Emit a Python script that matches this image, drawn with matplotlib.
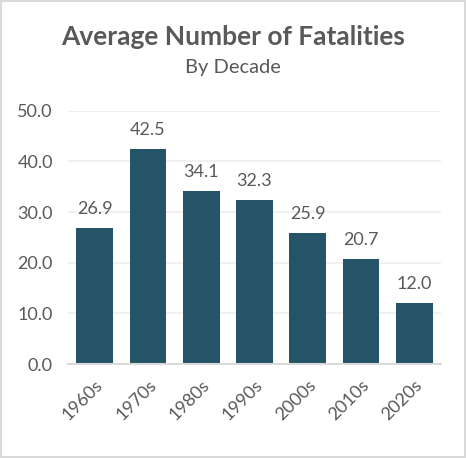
import matplotlib
matplotlib.use("Agg")
import matplotlib.pyplot as plt
from matplotlib.patches import Rectangle

decades = ["1960s", "1970s", "1980s", "1990s", "2000s", "2010s", "2020s"]
avg_fatalities = [26.9, 42.5, 34.1, 32.3, 25.9, 20.7, 12.0]
yticks = [0, 10, 20, 30, 40, 50]

title = "Average Number of Fatalities"
subtitle = "By Decade"

txt = "#595959"
bar_color = "#255367"
plt.rcParams["font.family"] = ["Lato", "DejaVu Sans"]

fig = plt.figure(figsize=(4.66, 4.58), dpi=100)
ax = fig.add_axes([0.146, 0.205, 0.80, 0.553])

x = range(len(decades))
bars = ax.bar(x, avg_fatalities, width=0.69, color=bar_color, zorder=3)
for xi, v in zip(x, avg_fatalities):
    ax.annotate(f"{v:.1f}", (xi, v), xytext=(0, 8), textcoords="offset points",
                ha="center", va="bottom", fontsize=13, color=txt)

ax.set_xlim(-0.5, len(decades) - 0.5)
ax.set_ylim(0, 50)
ax.set_yticks(yticks)
ax.set_yticklabels([f"{t:.1f}" for t in yticks], fontsize=13, color=txt)
ax.set_xticks(list(x))
ax.set_xticklabels(decades, fontsize=13, color=txt, rotation=45,
                   ha="right", va="top", rotation_mode="anchor")
ax.tick_params(length=0)
ax.tick_params(axis="y", pad=11)
ax.tick_params(axis="x", pad=9)
ax.grid(axis="y", color="#eeeeee", linewidth=1.2, zorder=0)
for s in ["top", "right", "left"]:
    ax.spines[s].set_visible(False)
ax.spines["bottom"].set_color("#d9d9d9")
ax.spines["bottom"].set_linewidth(1.5)
ax.spines["bottom"].set_zorder(4)

fig.text(0.5, 1 - 37 / 458, title, ha="center", va="center",
         fontsize=19, fontweight="bold", color=txt)
fig.text(0.5, 1 - 68 / 458, subtitle, ha="center", va="center",
         fontsize=14.5, color=txt)

fig.patches.append(Rectangle((0.002, 0.002), 0.996, 0.996, transform=fig.transFigure,
                             fill=False, edgecolor="#d9d9d9", linewidth=1.5))

fig.savefig("out.png", dpi=100)
